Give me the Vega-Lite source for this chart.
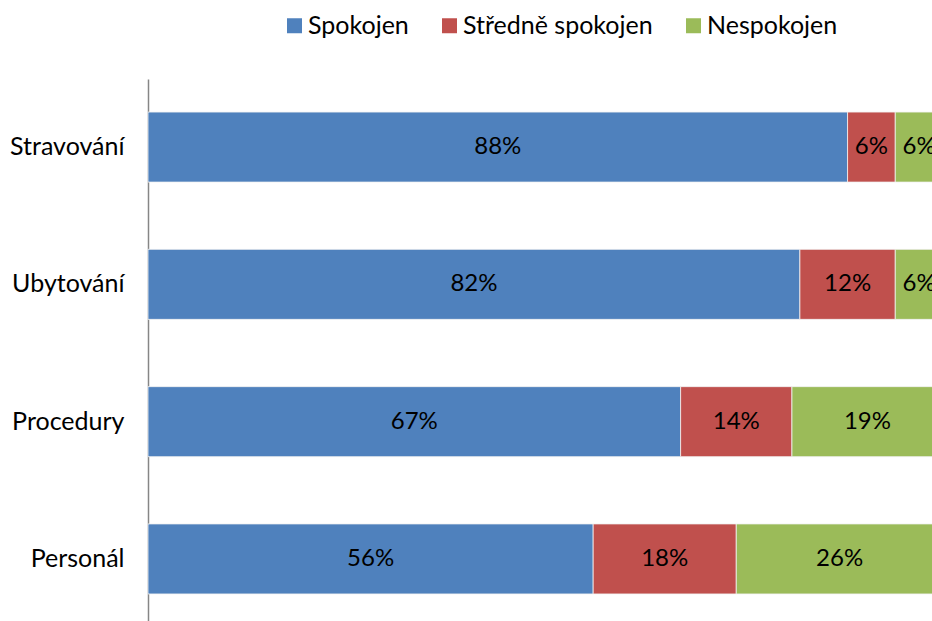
{
  "$schema": "https://vega.github.io/schema/vega-lite/v6.json",
  "autosize": "none",
  "width": 784,
  "height": 542,
  "padding": {"left": 148, "top": 79, "right": 0, "bottom": 0},
  "background": "white",
  "config": {"view": {"stroke": null}, "font": "Lato"},
  "data": {
    "values": [
      {"oblast": "Stravování", "hodnoceni": "Spokojen", "poradi": 1, "procento": 88},
      {"oblast": "Stravování", "hodnoceni": "Středně spokojen", "poradi": 2, "procento": 6},
      {"oblast": "Stravování", "hodnoceni": "Nespokojen", "poradi": 3, "procento": 6},
      {"oblast": "Ubytování", "hodnoceni": "Spokojen", "poradi": 1, "procento": 82},
      {"oblast": "Ubytování", "hodnoceni": "Středně spokojen", "poradi": 2, "procento": 12},
      {"oblast": "Ubytování", "hodnoceni": "Nespokojen", "poradi": 3, "procento": 6},
      {"oblast": "Procedury", "hodnoceni": "Spokojen", "poradi": 1, "procento": 67},
      {"oblast": "Procedury", "hodnoceni": "Středně spokojen", "poradi": 2, "procento": 14},
      {"oblast": "Procedury", "hodnoceni": "Nespokojen", "poradi": 3, "procento": 19},
      {"oblast": "Personál", "hodnoceni": "Spokojen", "poradi": 1, "procento": 56},
      {"oblast": "Personál", "hodnoceni": "Středně spokojen", "poradi": 2, "procento": 18},
      {"oblast": "Personál", "hodnoceni": "Nespokojen", "poradi": 3, "procento": 26}
    ]
  },
  "transform": [
    {"stack": "procento", "groupby": ["oblast"], "sort": [{"field": "poradi"}], "as": ["x0", "x1"]},
    {"calculate": "(datum.x0 + datum.x1) / 2", "as": "xmid"},
    {"calculate": "datum.procento + '%'", "as": "popisek"}
  ],
  "encoding": {
    "y": {
      "field": "oblast",
      "type": "nominal",
      "sort": ["Stravování", "Ubytování", "Procedury", "Personál"],
      "scale": {"paddingInner": 0.49, "paddingOuter": 0.219, "align": 0.55},
      "axis": {
        "title": null,
        "ticks": false,
        "labelPadding": 24,
        "labelFontSize": 25,
        "labelColor": "black",
        "labelFont": "Lato",
        "domainColor": "#868686",
        "domainWidth": 1.5
      }
    }
  },
  "layer": [
    {
      "mark": {"type": "bar", "clip": true, "stroke": "#f2f2f2", "strokeWidth": 0.8},
      "encoding": {
        "x": {"field": "x0", "type": "quantitative", "scale": {"domain": [0, 98.62], "nice": false, "zero": true}, "axis": null},
        "x2": {"field": "x1"},
        "color": {
          "field": "hodnoceni",
          "type": "nominal",
          "sort": ["Spokojen", "Středně spokojen", "Nespokojen"],
          "scale": {"domain": ["Spokojen", "Středně spokojen", "Nespokojen"], "range": ["#4F81BD", "#C0504D", "#9BBB59"]},
          "legend": {
            "title": null,
            "orient": "none",
            "direction": "horizontal",
            "legendX": 134,
            "legendY": -66,
            "symbolType": "square",
            "symbolSize": 225,
            "symbolStrokeWidth": 0,
            "labelFontSize": 25,
            "labelFont": "Lato",
            "labelColor": "black",
            "labelOffset": 1,
            "labelLimit": 400,
            "columnPadding": 28
          }
        }
      }
    },
    {
      "mark": {"type": "text", "clip": true, "fontSize": 24, "font": "Lato", "color": "black", "align": "center", "baseline": "middle"},
      "encoding": {
        "x": {"field": "xmid", "type": "quantitative"},
        "text": {"field": "popisek", "type": "nominal"}
      }
    }
  ]
}
